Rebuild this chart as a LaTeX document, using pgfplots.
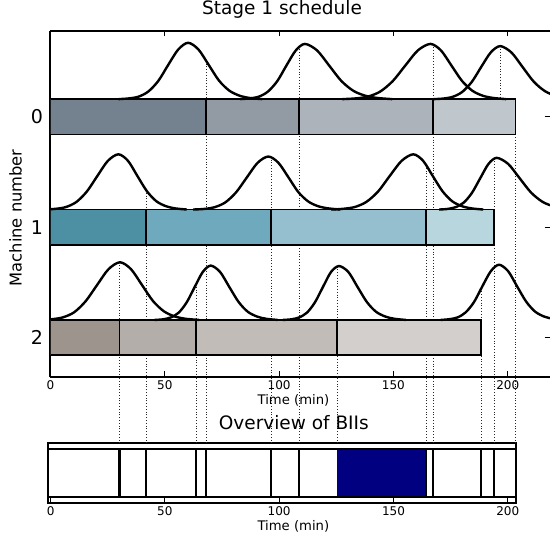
\documentclass[border=0pt]{standalone}
\usepackage{fontspec}
\setmainfont{DejaVu Sans}
\usepackage{pgfplots}
\pgfplotsset{compat=1.18}
\definecolor{a0}{HTML}{74828F}
\definecolor{a1}{HTML}{929BA3}
\definecolor{a2}{HTML}{ACB3BA}
\definecolor{a3}{HTML}{C0C7CC}
\definecolor{b0}{HTML}{4D8FA3}
\definecolor{b1}{HTML}{6FA9BD}
\definecolor{b2}{HTML}{95BFCE}
\definecolor{b3}{HTML}{B8D6DE}
\definecolor{c0}{HTML}{9D948E}
\definecolor{c1}{HTML}{B3AEA9}
\definecolor{c2}{HTML}{C1BCB8}
\definecolor{c3}{HTML}{D3CFCC}
\definecolor{navyb}{HTML}{000080}
\begin{document}
\begin{tikzpicture}
\pgfplotsset{
  bar/.style={draw=black, line width=1.5pt},
  curve/.style={black, line width=2.4pt, smooth, line join=round, no markers},
  dots/.style={black!85, dotted, line width=0.8pt, unbounded coords=jump, no markers},
}
\begin{axis}[
  at={(0pt,0pt)}, anchor=south west,
  scale only axis, width=499.5pt, height=346pt,
  xmin=0, xmax=218.5, ymin=-2.357, ymax=0.777,
  axis x line*=box, axis y line*=left,
  axis line style={line width=2pt, black},
  xtick={0,50,100,150,200}, ytick={-2,-1,0}, yticklabels={2,1,0},
  tick align=inside, major tick length=5.5pt,
  tick style={black, line width=1pt},
  /pgf/number format/assume math mode=true,
  xticklabel style={font=\fontsize{12}{14}\selectfont, anchor=base, yshift=-13pt},
  yticklabel style={font=\fontsize{19}{22}\selectfont, anchor=east, inner sep=0pt, xshift=-7.3pt},
  title={Stage 1 schedule},
  title style={font=\fontsize{18.5}{22}\selectfont, at={([yshift=10.3pt]axis description cs:0.4635,1)}, anchor=base},
  xlabel={Time (min)},
  xlabel style={font=\fontsize{13.2}{16}\selectfont, at={([yshift=-27.5pt]axis description cs:0.4865,0)}, anchor=base},
  ylabel={Machine number},
  ylabel style={font=\fontsize{16.3}{19}\selectfont, at={([xshift=-28.8pt]axis description cs:0,0.46)}, anchor=base},
]
% dotted guide lines
\addplot[dots] coordinates {
(68.1,0.507) (68.1,-2.4) (nan,nan)
(108.8,0.637) (108.8,-2.4) (nan,nan)
(167.3,0.656) (167.3,-2.4) (nan,nan)
(196.7,0.64) (196.7,0.16) (nan,nan)
(203.4,-0.16) (203.4,-2.4) (nan,nan)
(41.8,-0.664) (41.8,-2.4) (nan,nan)
(96.5,-0.362) (96.5,-2.4) (nan,nan)
(164.3,-0.437) (164.3,-2.4) (nan,nan)
(194.0,-0.379) (194.0,-2.4) (nan,nan)
(30.1,-1.318) (30.1,-2.4) (nan,nan)
(63.7,-1.515) (63.7,-2.4) (nan,nan)
(125.4,-1.357) (125.4,-2.4) (nan,nan)
(188.4,-1.557) (188.4,-2.4)
};
% machine 0 bars
\addplot[bar, fill=a0] coordinates {(0,-0.16) (68.1,-0.16) (68.1,0.16) (0,0.16)} -- cycle;
\addplot[bar, fill=a1] coordinates {(68.1,-0.16) (108.8,-0.16) (108.8,0.16) (68.1,0.16)} -- cycle;
\addplot[bar, fill=a2] coordinates {(108.8,-0.16) (167.3,-0.16) (167.3,0.16) (108.8,0.16)} -- cycle;
\addplot[bar, fill=a3] coordinates {(167.3,-0.16) (203.4,-0.16) (203.4,0.16) (167.3,0.16)} -- cycle;
% machine 1 bars
\addplot[bar, fill=b0] coordinates {(0,-1.16) (41.8,-1.16) (41.8,-0.84) (0,-0.84)} -- cycle;
\addplot[bar, fill=b1] coordinates {(41.8,-1.16) (96.5,-1.16) (96.5,-0.84) (41.8,-0.84)} -- cycle;
\addplot[bar, fill=b2] coordinates {(96.5,-1.16) (164.3,-1.16) (164.3,-0.84) (96.5,-0.84)} -- cycle;
\addplot[bar, fill=b3] coordinates {(164.3,-1.16) (194.0,-1.16) (194.0,-0.84) (164.3,-0.84)} -- cycle;
% machine 2 bars
\addplot[bar, fill=c0] coordinates {(0,-2.16) (30.1,-2.16) (30.1,-1.84) (0,-1.84)} -- cycle;
\addplot[bar, fill=c1] coordinates {(30.1,-2.16) (63.7,-2.16) (63.7,-1.84) (30.1,-1.84)} -- cycle;
\addplot[bar, fill=c2] coordinates {(63.7,-2.16) (125.4,-2.16) (125.4,-1.84) (63.7,-1.84)} -- cycle;
\addplot[bar, fill=c3] coordinates {(125.4,-2.16) (188.4,-2.16) (188.4,-1.84) (125.4,-1.84)} -- cycle;
% machine 0 curves
\addplot[curve] coordinates {(29.8,0.160) (34.1,0.166) (38.5,0.182) (42.8,0.229) (47.2,0.326) (51.5,0.470) (55.9,0.610) (60.2,0.670) (64.7,0.610) (69.2,0.470) (73.7,0.328) (78.2,0.237) (82.7,0.191) (87.2,0.170) (92.6,0.160)};
\addplot[curve] coordinates {(83.0,0.160) (87.0,0.166) (91.1,0.182) (95.1,0.228) (99.2,0.323) (103.2,0.464) (107.3,0.601) (111.3,0.660) (116.6,0.601) (121.9,0.464) (127.2,0.325) (132.5,0.235) (137.8,0.190) (143.1,0.170) (149.5,0.160)};
\addplot[curve] coordinates {(127.7,0.160) (133.2,0.166) (138.7,0.182) (144.2,0.228) (149.7,0.323) (155.2,0.464) (160.7,0.601) (166.2,0.660) (170.8,0.601) (175.4,0.464) (180.0,0.325) (184.6,0.235) (189.2,0.190) (193.8,0.170) (199.3,0.160)};
\addplot[curve] coordinates {(167.7,0.160) (171.8,0.165) (176.0,0.181) (180.1,0.225) (184.3,0.316) (188.4,0.451) (192.6,0.583) (196.7,0.640) (201.6,0.583) (206.5,0.451) (211.4,0.318) (216.3,0.232) (221.2,0.189) (226.1,0.170) (232.0,0.160)};
% machine 1 curves
\addplot[curve] coordinates {(-2.5,-0.840) (2.1,-0.834) (6.7,-0.818) (11.3,-0.772) (15.9,-0.677) (20.5,-0.536) (25.1,-0.399) (29.7,-0.340) (33.9,-0.399) (38.0,-0.536) (42.2,-0.675) (46.3,-0.765) (50.5,-0.810) (54.6,-0.830) (59.6,-0.840)};
\addplot[curve] coordinates {(62.4,-0.840) (67.1,-0.835) (71.8,-0.819) (76.5,-0.775) (81.2,-0.684) (85.9,-0.549) (90.6,-0.417) (95.3,-0.360) (99.7,-0.417) (104.1,-0.549) (108.4,-0.682) (112.8,-0.768) (117.2,-0.811) (121.6,-0.830) (126.8,-0.840)};
\addplot[curve] coordinates {(122.7,-0.840) (127.8,-0.834) (133.0,-0.818) (138.1,-0.772) (143.3,-0.677) (148.4,-0.536) (153.6,-0.399) (158.7,-0.340) (163.0,-0.399) (167.2,-0.536) (171.5,-0.675) (175.7,-0.765) (180.0,-0.810) (184.2,-0.830) (189.3,-0.840)};
\addplot[curve] coordinates {(170.0,-0.840) (173.6,-0.835) (177.2,-0.819) (180.8,-0.777) (184.4,-0.688) (188.0,-0.556) (191.6,-0.427) (195.2,-0.372) (200.2,-0.427) (205.2,-0.556) (210.2,-0.686) (215.2,-0.770) (220.2,-0.812) (225.2,-0.831) (231.2,-0.840)};
% machine 2 curves
\addplot[curve] coordinates {(-4.6,-1.840) (0.4,-1.834) (5.4,-1.817) (10.4,-1.770) (15.4,-1.670) (20.4,-1.523) (25.4,-1.380) (30.4,-1.318) (35.2,-1.380) (40.0,-1.523) (44.8,-1.668) (49.6,-1.762) (54.4,-1.809) (59.2,-1.830) (65.0,-1.840)};
\addplot[curve] coordinates {(45.6,-1.840) (49.1,-1.835) (52.6,-1.818) (56.1,-1.774) (59.6,-1.680) (63.1,-1.541) (66.6,-1.406) (70.1,-1.348) (74.2,-1.406) (78.2,-1.541) (82.3,-1.678) (86.3,-1.766) (90.4,-1.810) (94.4,-1.830) (99.3,-1.840)};
\addplot[curve] coordinates {(101.7,-1.840) (105.2,-1.835) (108.7,-1.818) (112.2,-1.774) (115.7,-1.680) (119.2,-1.541) (122.7,-1.406) (126.2,-1.352) (130.3,-1.406) (134.3,-1.541) (138.4,-1.678) (142.4,-1.766) (146.5,-1.810) (150.5,-1.830) (155.4,-1.840)};
\addplot[curve] coordinates {(170.7,-1.840) (174.3,-1.834) (178.0,-1.818) (181.6,-1.772) (185.3,-1.677) (188.9,-1.536) (192.6,-1.399) (196.2,-1.340) (200.2,-1.399) (204.1,-1.536) (208.1,-1.675) (212.0,-1.765) (216.0,-1.810) (219.9,-1.830) (224.6,-1.840)};
% right-hand tick marks
\addplot[black, line width=1pt, unbounded coords=jump, no markers] coordinates {(216.1,0) (218.5,0) (nan,nan) (216.1,-1) (218.5,-1) (nan,nan) (216.1,-2) (218.5,-2)};
\end{axis}

\begin{axis}[
  at={(-2.2pt,-126.3pt)}, anchor=south west,
  scale only axis, width=467.7pt, height=60pt,
  xmin=-1, xmax=203.6, ymin=0, ymax=1,
  clip=false,
  axis line style={line width=2pt, black},
  xtick={0,50,100,150,200}, ytick=\empty, xtick pos=left,
  tick align=inside, major tick length=5.5pt,
  tick style={black, line width=1pt},
  /pgf/number format/assume math mode=true,
  xticklabel style={font=\fontsize{12}{14}\selectfont, anchor=base, yshift=-12.7pt},
  title={Overview of BIIs},
  title style={font=\fontsize{18.5}{22}\selectfont, at={([yshift=7.3pt]axis description cs:0.525,1)}, anchor=base},
  xlabel={Time (min)},
  xlabel style={font=\fontsize{13.2}{16}\selectfont, at={([yshift=-27.7pt]axis description cs:0.524,0)}, anchor=base},
]
\addplot[dots] coordinates {
(30.1,1) (30.1,2.105) (nan,nan)
(41.8,1) (41.8,2.105) (nan,nan)
(63.7,1) (63.7,2.105) (nan,nan)
(68.1,1) (68.1,2.105) (nan,nan)
(96.5,1) (96.5,2.105) (nan,nan)
(108.8,1) (108.8,2.105) (nan,nan)
(125.4,1) (125.4,2.105) (nan,nan)
(164.3,1) (164.3,2.105) (nan,nan)
(167.3,1) (167.3,2.105) (nan,nan)
(188.4,1) (188.4,2.105) (nan,nan)
(194.0,1) (194.0,2.105) (nan,nan)
(203.4,1) (203.4,2.105)
};
\addplot[fill=white, draw=black, line width=1.7pt] coordinates {(-1,0.1) (203.6,0.1) (203.6,0.9) (-1,0.9)} -- cycle;
\addplot[fill=navyb, draw=none] coordinates {(125.4,0.1) (164.0,0.1) (164.0,0.9) (125.4,0.9)} -- cycle;
\addplot[black, line width=2.3pt, unbounded coords=jump, no markers] coordinates {
(30.1,0.1) (30.1,0.9) (nan,nan)
(41.8,0.1) (41.8,0.9) (nan,nan)
(63.7,0.1) (63.7,0.9) (nan,nan)
(68.1,0.1) (68.1,0.9) (nan,nan)
(96.5,0.1) (96.5,0.9) (nan,nan)
(108.8,0.1) (108.8,0.9) (nan,nan)
(164.3,0.1) (164.3,0.9) (nan,nan)
(167.3,0.1) (167.3,0.9) (nan,nan)
(188.4,0.1) (188.4,0.9) (nan,nan)
(194.0,0.1) (194.0,0.9)
};
\addplot[draw=black, line width=1.7pt, no markers] coordinates {(-1,0.1) (203.6,0.1) (203.6,0.9) (-1,0.9)} -- cycle;
\end{axis}
\pgfresetboundingbox
\path[use as bounding box] (-50.5pt,-160pt) rectangle (499.5pt,377pt);
\end{tikzpicture}
\end{document}
